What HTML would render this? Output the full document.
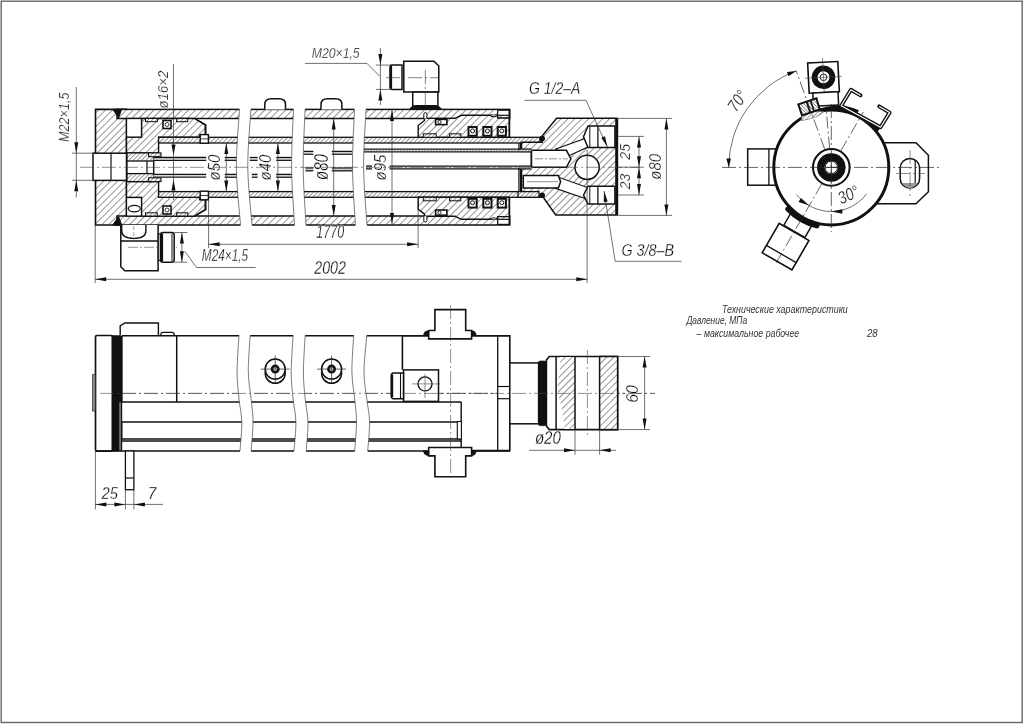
<!DOCTYPE html>
<html><head><meta charset="utf-8"><style>
html,body{margin:0;padding:0;background:#fff;}
svg{display:block;will-change:transform;}
text{font-family:"Liberation Sans",sans-serif;}
</style></head><body>
<svg width="1024" height="724" viewBox="0 0 1024 724">
<defs>
<pattern id="h" patternUnits="userSpaceOnUse" width="4.9" height="4.9" patternTransform="rotate(45)"><rect width="4.9" height="4.9" fill="#fff"/><line x1="0" y1="0" x2="0" y2="4.9" stroke="#222" stroke-width="0.95"/></pattern>
<pattern id="h2" patternUnits="userSpaceOnUse" width="3" height="3" patternTransform="rotate(45)"><rect width="3" height="3" fill="#fff"/><line x1="0" y1="0" x2="0" y2="3" stroke="#222" stroke-width="0.9"/></pattern>
<pattern id="h4" patternUnits="userSpaceOnUse" width="2.4" height="2.4" patternTransform="rotate(-45)"><rect width="2.4" height="2.4" fill="#fff"/><line x1="0" y1="0" x2="0" y2="2.4" stroke="#222" stroke-width="0.9"/></pattern>
<pattern id="h3" patternUnits="userSpaceOnUse" width="2" height="2" patternTransform="rotate(45)"><rect width="2" height="2" fill="#888"/><line x1="0" y1="0" x2="0" y2="2" stroke="#111" stroke-width="1"/></pattern>
</defs>
<rect x="1.2" y="1.2" width="1021" height="721.3" fill="none" stroke="#666" stroke-width="1.4"/>
<polygon points="95.5,109.4 126.5,109.4 126.5,225 95.5,225" fill="url(#h)" stroke="#111" stroke-width="1.6" />
<rect x="93" y="153.2" width="33.5" height="27.2" fill="#fff" stroke="#111" stroke-width="1.5" />
<line x1="111" y1="153.2" x2="111" y2="180.4" stroke="#111" stroke-width="1.2" />
<rect x="117" y="109.4" width="392.7" height="9.099999999999994" fill="url(#h)" stroke="#111" stroke-width="1.5" />
<rect x="117" y="216.0" width="392.7" height="9.0" fill="url(#h)" stroke="#111" stroke-width="1.5" />
<polygon points="112.8,109.4 121.7,109.4 118.6,117.8" fill="#111" stroke="#111" stroke-width="1" />
<polygon points="112.8,225 121.7,225 118.6,216.6" fill="#111" stroke="#111" stroke-width="1" />
<polygon points="126.5,137.1 141.5,137.1 141.5,118.5 194.6,118.5 205.8,125 205.8,135 199.6,135 199.6,137.3 158.6,137.3 158.6,153 126.5,153" fill="url(#h)" stroke="#111" stroke-width="1.4" />
<polygon points="126.5,197.5 141.5,197.5 141.5,216.1 194.6,216.1 205.8,209.6 205.8,199.6 199.6,199.6 199.6,197.3 158.6,197.3 158.6,181.6 126.5,181.6" fill="url(#h)" stroke="#111" stroke-width="1.4" />
<rect x="126.5" y="118.5" width="15" height="18.6" fill="#fff" stroke="#111" stroke-width="1.3" />
<rect x="126.5" y="197.5" width="15" height="18.6" fill="#fff" stroke="#111" stroke-width="1.3" />
<ellipse cx="134.3" cy="208.6" rx="6" ry="3.2" fill="none" stroke="#111" stroke-width="1.2"/>
<rect x="163" y="120.5" width="8" height="8" fill="#fff" stroke="#111" stroke-width="1.6" />
<circle cx="167" cy="124.5" r="2" fill="none" stroke="#111" stroke-width="0.8"/>
<rect x="163" y="206" width="8" height="8" fill="#fff" stroke="#111" stroke-width="1.6" />
<circle cx="167" cy="210" r="2" fill="none" stroke="#111" stroke-width="0.8"/>
<rect x="145.5" y="118.5" width="11.8" height="3.2" fill="url(#h2)" stroke="#111" stroke-width="1.0" />
<rect x="176.6" y="118.5" width="11.2" height="3.2" fill="url(#h2)" stroke="#111" stroke-width="1.0" />
<rect x="145.5" y="212.8" width="11.8" height="3.2" fill="url(#h2)" stroke="#111" stroke-width="1.0" />
<rect x="176.6" y="212.8" width="11.2" height="3.2" fill="url(#h2)" stroke="#111" stroke-width="1.0" />
<rect x="127" y="152.9" width="26.6" height="28.7" fill="url(#h2)" stroke="#111" stroke-width="1.3" />
<rect x="127" y="161" width="26.6" height="12.6" fill="#fff" stroke="#111" stroke-width="1.3" />
<line x1="147" y1="161" x2="147" y2="173.6" stroke="#111" stroke-width="1.2" />
<rect x="148.6" y="152.9" width="12.4" height="3.8" fill="url(#h2)" stroke="#111" stroke-width="1.1" />
<rect x="148.6" y="177.8" width="12.4" height="3.8" fill="url(#h2)" stroke="#111" stroke-width="1.1" />
<rect x="158.6" y="137.3" width="381.4" height="5.7" fill="url(#h2)" stroke="#111" stroke-width="1.3" />
<rect x="158.6" y="191.6" width="380.4" height="5.7" fill="url(#h2)" stroke="#111" stroke-width="1.3" />
<rect x="200.2" y="134.6" width="8.2" height="8.6" fill="#fff" stroke="#111" stroke-width="1.4" />
<line x1="200.2" y1="138.9" x2="208.4" y2="138.9" stroke="#111" stroke-width="0.8" />
<rect x="200.2" y="191.2" width="8.2" height="8.6" fill="#fff" stroke="#111" stroke-width="1.4" />
<line x1="200.2" y1="195.5" x2="208.4" y2="195.5" stroke="#111" stroke-width="0.8" />
<path d="M194.6,118.5 L205.2,125 L205.2,134.6" fill="none" stroke="#111" stroke-width="1.4"/>
<path d="M194.6,216.1 L205.2,209.6 L205.2,199.8" fill="none" stroke="#111" stroke-width="1.4"/>
<rect x="153.6" y="157.4" width="52.599999999999994" height="3.0" fill="#fff" stroke="none" stroke-width="0" /><line x1="153.6" y1="157.5" x2="206.2" y2="157.5" stroke="#111" stroke-width="1.3" /><line x1="153.6" y1="160.3" x2="206.2" y2="160.3" stroke="#111" stroke-width="1.3" /><line x1="153.6" y1="158.9" x2="206.2" y2="158.9" stroke="#999" stroke-width="0.8" stroke-dasharray="2,1"/>
<rect x="153.6" y="174.3" width="52.599999999999994" height="3.0" fill="#fff" stroke="none" stroke-width="0" /><line x1="153.6" y1="174.4" x2="206.2" y2="174.4" stroke="#111" stroke-width="1.3" /><line x1="153.6" y1="177.20000000000002" x2="206.2" y2="177.20000000000002" stroke="#111" stroke-width="1.3" /><line x1="153.6" y1="175.8" x2="206.2" y2="175.8" stroke="#999" stroke-width="0.8" stroke-dasharray="2,1"/>
<rect x="224.7" y="157.4" width="15.300000000000011" height="3.0" fill="#fff" stroke="none" stroke-width="0" /><line x1="224.7" y1="157.5" x2="240" y2="157.5" stroke="#111" stroke-width="1.3" /><line x1="224.7" y1="160.3" x2="240" y2="160.3" stroke="#111" stroke-width="1.3" /><line x1="224.7" y1="158.9" x2="240" y2="158.9" stroke="#999" stroke-width="0.8" stroke-dasharray="2,1"/>
<rect x="224.7" y="174.3" width="15.300000000000011" height="3.0" fill="#fff" stroke="none" stroke-width="0" /><line x1="224.7" y1="174.4" x2="240" y2="174.4" stroke="#111" stroke-width="1.3" /><line x1="224.7" y1="177.20000000000002" x2="240" y2="177.20000000000002" stroke="#111" stroke-width="1.3" /><line x1="224.7" y1="175.8" x2="240" y2="175.8" stroke="#999" stroke-width="0.8" stroke-dasharray="2,1"/>
<rect x="249.8" y="157.4" width="7.800000000000011" height="3.0" fill="#fff" stroke="none" stroke-width="0" /><line x1="249.8" y1="157.5" x2="257.6" y2="157.5" stroke="#111" stroke-width="1.3" /><line x1="249.8" y1="160.3" x2="257.6" y2="160.3" stroke="#111" stroke-width="1.3" /><line x1="249.8" y1="158.9" x2="257.6" y2="158.9" stroke="#999" stroke-width="0.8" stroke-dasharray="2,1"/>
<rect x="251.8" y="174.3" width="5.800000000000011" height="3.0" fill="#fff" stroke="none" stroke-width="0" /><line x1="251.8" y1="174.4" x2="257.6" y2="174.4" stroke="#111" stroke-width="1.3" /><line x1="251.8" y1="177.20000000000002" x2="257.6" y2="177.20000000000002" stroke="#111" stroke-width="1.3" /><line x1="251.8" y1="175.8" x2="257.6" y2="175.8" stroke="#999" stroke-width="0.8" stroke-dasharray="2,1"/>
<rect x="276.2" y="157.4" width="16.600000000000023" height="3.0" fill="#fff" stroke="none" stroke-width="0" /><line x1="276.2" y1="157.5" x2="292.8" y2="157.5" stroke="#111" stroke-width="1.3" /><line x1="276.2" y1="160.3" x2="292.8" y2="160.3" stroke="#111" stroke-width="1.3" /><line x1="276.2" y1="158.9" x2="292.8" y2="158.9" stroke="#999" stroke-width="0.8" stroke-dasharray="2,1"/>
<rect x="276.2" y="174.3" width="18.5" height="3.0" fill="#fff" stroke="none" stroke-width="0" /><line x1="276.2" y1="174.4" x2="294.7" y2="174.4" stroke="#111" stroke-width="1.3" /><line x1="276.2" y1="177.20000000000002" x2="294.7" y2="177.20000000000002" stroke="#111" stroke-width="1.3" /><line x1="276.2" y1="175.8" x2="294.7" y2="175.8" stroke="#999" stroke-width="0.8" stroke-dasharray="2,1"/>
<rect x="303.5" y="151.3" width="9.800000000000011" height="3.0" fill="#fff" stroke="none" stroke-width="0" /><line x1="303.5" y1="151.4" x2="313.3" y2="151.4" stroke="#111" stroke-width="1.3" /><line x1="303.5" y1="154.20000000000002" x2="313.3" y2="154.20000000000002" stroke="#111" stroke-width="1.3" /><line x1="303.5" y1="152.8" x2="313.3" y2="152.8" stroke="#999" stroke-width="0.8" stroke-dasharray="2,1"/>
<rect x="331.8" y="151.3" width="20.5" height="3.0" fill="#fff" stroke="none" stroke-width="0" /><line x1="331.8" y1="151.4" x2="352.3" y2="151.4" stroke="#111" stroke-width="1.3" /><line x1="331.8" y1="154.20000000000002" x2="352.3" y2="154.20000000000002" stroke="#111" stroke-width="1.3" /><line x1="331.8" y1="152.8" x2="352.3" y2="152.8" stroke="#999" stroke-width="0.8" stroke-dasharray="2,1"/>
<rect x="305.5" y="167.9" width="7.800000000000011" height="3.0" fill="#fff" stroke="none" stroke-width="0" /><line x1="305.5" y1="168.0" x2="313.3" y2="168.0" stroke="#111" stroke-width="1.3" /><line x1="305.5" y1="170.8" x2="313.3" y2="170.8" stroke="#111" stroke-width="1.3" /><line x1="305.5" y1="169.4" x2="313.3" y2="169.4" stroke="#999" stroke-width="0.8" stroke-dasharray="2,1"/>
<rect x="331.8" y="167.9" width="22.5" height="3.0" fill="#fff" stroke="none" stroke-width="0" /><line x1="331.8" y1="168.0" x2="354.3" y2="168.0" stroke="#111" stroke-width="1.3" /><line x1="331.8" y1="170.8" x2="354.3" y2="170.8" stroke="#111" stroke-width="1.3" /><line x1="331.8" y1="169.4" x2="354.3" y2="169.4" stroke="#999" stroke-width="0.8" stroke-dasharray="2,1"/>
<rect x="364" y="149.0" width="167.39999999999998" height="3.0" fill="#fff" stroke="none" stroke-width="0" /><line x1="364" y1="149.1" x2="531.4" y2="149.1" stroke="#111" stroke-width="1.3" /><line x1="364" y1="151.9" x2="531.4" y2="151.9" stroke="#111" stroke-width="1.3" /><line x1="364" y1="150.5" x2="531.4" y2="150.5" stroke="#999" stroke-width="0.8" stroke-dasharray="2,1"/>
<rect x="366" y="166.0" width="6" height="3.0" fill="#fff" stroke="none" stroke-width="0" /><line x1="366" y1="166.1" x2="372" y2="166.1" stroke="#111" stroke-width="1.3" /><line x1="366" y1="168.9" x2="372" y2="168.9" stroke="#111" stroke-width="1.3" /><line x1="366" y1="167.5" x2="372" y2="167.5" stroke="#999" stroke-width="0.8" stroke-dasharray="2,1"/>
<rect x="389.5" y="166.0" width="141.89999999999998" height="3.0" fill="#fff" stroke="none" stroke-width="0" /><line x1="389.5" y1="166.1" x2="531.4" y2="166.1" stroke="#111" stroke-width="1.3" /><line x1="389.5" y1="168.9" x2="531.4" y2="168.9" stroke="#111" stroke-width="1.3" /><line x1="389.5" y1="167.5" x2="531.4" y2="167.5" stroke="#999" stroke-width="0.8" stroke-dasharray="2,1"/>
<line x1="531.4" y1="148.7" x2="531.4" y2="167.4" stroke="#111" stroke-width="1.4" />
<line x1="520.5" y1="143" x2="520.5" y2="150" stroke="#111" stroke-width="1.3" />
<line x1="520.5" y1="167.5" x2="520.5" y2="191.6" stroke="#111" stroke-width="1.3" />
<path d="M239.5,107.9 C239.50,108.15 240.02,99.50 239.50,109.40 C238.98,119.30 236.23,148.03 236.40,167.30 C236.57,186.57 239.82,215.13 240.50,225.00 C241.18,234.87 240.50,226.25 240.50,226.50 L252,226.5 C252.00,226.25 252.70,234.87 252.00,225.00 C251.30,215.13 247.98,186.57 247.80,167.30 C247.62,148.03 250.38,119.30 250.90,109.40 C251.42,99.50 250.90,108.15 250.90,107.90 Z" fill="#fff" stroke="none"/><path d="M239.5,109.4 C238.98,119.05 236.23,148.03 236.40,167.30 C236.57,186.57 239.82,215.38 240.50,225.00" fill="none" stroke="#444" stroke-width="0.7"/><path d="M250.9,109.4 C250.38,119.05 247.62,148.03 247.80,167.30 C247.98,186.57 251.30,215.38 252.00,225.00" fill="none" stroke="#444" stroke-width="0.7"/>
<path d="M293.5,107.9 C293.50,108.15 293.82,99.50 293.50,109.40 C293.18,119.30 291.43,148.03 291.60,167.30 C291.77,186.57 294.02,215.13 294.50,225.00 C294.98,234.87 294.50,226.25 294.50,226.50 L306,226.5 C306.00,226.25 306.47,234.87 306.00,225.00 C305.53,215.13 303.35,186.57 303.20,167.30 C303.05,148.03 304.78,119.30 305.10,109.40 C305.42,99.50 305.10,108.15 305.10,107.90 Z" fill="#fff" stroke="none"/><path d="M293.5,109.4 C293.18,119.05 291.43,148.03 291.60,167.30 C291.77,186.57 294.02,215.38 294.50,225.00" fill="none" stroke="#444" stroke-width="0.7"/><path d="M305.1,109.4 C304.78,119.05 303.05,148.03 303.20,167.30 C303.35,186.57 305.53,215.38 306.00,225.00" fill="none" stroke="#444" stroke-width="0.7"/>
<path d="M354.5,107.9 C354.50,108.15 354.83,99.50 354.50,109.40 C354.17,119.30 352.35,148.03 352.50,167.30 C352.65,186.57 354.92,215.13 355.40,225.00 C355.88,234.87 355.40,226.25 355.40,226.50 L367,226.5 C367.00,226.25 367.57,234.87 367.00,225.00 C366.43,215.13 363.77,186.57 363.60,167.30 C363.43,148.03 365.60,119.30 366.00,109.40 C366.40,99.50 366.00,108.15 366.00,107.90 Z" fill="#fff" stroke="none"/><path d="M354.5,109.4 C354.17,119.05 352.35,148.03 352.50,167.30 C352.65,186.57 354.92,215.38 355.40,225.00" fill="none" stroke="#444" stroke-width="0.7"/><path d="M366,109.4 C365.60,119.05 363.43,148.03 363.60,167.30 C363.77,186.57 366.43,215.38 367.00,225.00" fill="none" stroke="#444" stroke-width="0.7"/>
<polygon points="418.2,137.3 418.2,125.5 424.5,120.5 424.5,118.4 455,118.4 461.3,115.3 497.7,115.3 497.7,118 509.3,118 509.3,137.3" fill="url(#h)" stroke="#111" stroke-width="1.4" />
<rect x="497.7" y="110.2" width="11.6" height="5.099999999999994" fill="#fff" stroke="#111" stroke-width="1.2" />
<path d="M490,115.3 Q493.8,118.3 497.7,115.3" fill="#fff" stroke="#111" stroke-width="1.1"/>
<path d="M423.8,118.4 L423.8,114 Q425.3,110.6 426.9,114 L426.9,118.4" fill="#fff" stroke="#111" stroke-width="1.0"/>
<rect x="435.6" y="119.4" width="11.3" height="5.2" fill="#fff" stroke="#111" stroke-width="1.6" />
<circle cx="439.5" cy="122.0" r="1.6" fill="none" stroke="#111" stroke-width="0.9"/>
<rect x="423.3" y="133.8" width="12.899999999999977" height="3.5" fill="url(#h2)" stroke="#111" stroke-width="1.0" />
<rect x="449.5" y="133.8" width="11.300000000000011" height="3.5" fill="url(#h2)" stroke="#111" stroke-width="1.0" />
<rect x="468.5" y="127" width="8.2" height="8.8" fill="#fff" stroke="#111" stroke-width="2.0" />
<circle cx="472.6" cy="130.9" r="2" fill="none" stroke="#111" stroke-width="1"/>
<rect x="483.3" y="127" width="8.2" height="8.8" fill="#fff" stroke="#111" stroke-width="2.0" />
<circle cx="487.40000000000003" cy="130.9" r="2" fill="none" stroke="#111" stroke-width="1"/>
<rect x="497.7" y="127" width="8.2" height="8.8" fill="#fff" stroke="#111" stroke-width="2.0" />
<circle cx="501.8" cy="130.9" r="2" fill="none" stroke="#111" stroke-width="1"/>
<polygon points="418.2,197.3 418.2,209.1 424.5,214.1 424.5,216.2 455,216.2 461.3,219.3 497.7,219.3 497.7,216.6 509.3,216.6 509.3,197.3" fill="url(#h)" stroke="#111" stroke-width="1.4" />
<rect x="497.7" y="219.3" width="11.6" height="5.099999999999994" fill="#fff" stroke="#111" stroke-width="1.2" />
<path d="M490,219.3 Q493.8,216.3 497.7,219.3" fill="#fff" stroke="#111" stroke-width="1.1"/>
<path d="M423.8,216.2 L423.8,220.6 Q425.3,224.0 426.9,220.6 L426.9,216.2" fill="#fff" stroke="#111" stroke-width="1.0"/>
<rect x="435.6" y="210.0" width="11.3" height="5.2" fill="#fff" stroke="#111" stroke-width="1.6" />
<circle cx="439.5" cy="212.6" r="1.6" fill="none" stroke="#111" stroke-width="0.9"/>
<rect x="423.3" y="197.3" width="12.899999999999977" height="3.5" fill="url(#h2)" stroke="#111" stroke-width="1.0" />
<rect x="449.5" y="197.3" width="11.300000000000011" height="3.5" fill="url(#h2)" stroke="#111" stroke-width="1.0" />
<rect x="468.5" y="198.8" width="8.2" height="8.8" fill="#fff" stroke="#111" stroke-width="2.0" />
<circle cx="472.6" cy="202.7" r="2" fill="none" stroke="#111" stroke-width="1"/>
<rect x="483.3" y="198.8" width="8.2" height="8.8" fill="#fff" stroke="#111" stroke-width="2.0" />
<circle cx="487.40000000000003" cy="202.7" r="2" fill="none" stroke="#111" stroke-width="1"/>
<rect x="497.7" y="198.8" width="8.2" height="8.8" fill="#fff" stroke="#111" stroke-width="2.0" />
<circle cx="501.8" cy="202.7" r="2" fill="none" stroke="#111" stroke-width="1"/>
<line x1="509.5" y1="109.4" x2="509.5" y2="137.3" stroke="#111" stroke-width="1.5" />
<line x1="509.5" y1="197.3" x2="509.5" y2="225" stroke="#111" stroke-width="1.5" />
<path d="M264.8,109.4 L264.8,104.5 Q264.8,98.8 271.3,98.8 L279.0,98.8 Q285.5,98.8 285.5,104.5 L285.5,109.4" fill="#fff" stroke="#111" stroke-width="1.5"/>
<path d="M321,109.4 L321,104.5 Q321,98.8 327.5,98.8 L335.4,98.8 Q341.9,98.8 341.9,104.5 L341.9,109.4" fill="#fff" stroke="#111" stroke-width="1.5"/>
<polygon points="542.2,135.9 556.6,118.2 616.7,118.2 616.7,214.9 555.7,214.9 543.1,197 521.5,197 521.5,142.2 542.2,142.2" fill="url(#h)" stroke="#111" stroke-width="1.5" />
<line x1="616.7" y1="118.2" x2="616.7" y2="214.9" stroke="#111" stroke-width="3" />
<circle cx="587.1" cy="167.3" r="12.1" fill="#fff" stroke="#111" stroke-width="1.5"/>
<polygon points="555.7,149.1 585,138.4 587.9,147.1 568.4,155.9" fill="#fff" stroke="#111" stroke-width="1.1" />
<polygon points="558.6,177.3 588.9,188.1 585.9,198.8 554.7,188.1" fill="#fff" stroke="#111" stroke-width="1.1" />
<rect x="519" y="150.5" width="13" height="16.6" fill="#fff" stroke="none" stroke-width="0" />
<polygon points="531.4,150.3 566.4,150.3 570.9,158.8 566.4,167.3 531.4,167.3" fill="#fff" stroke="#111" stroke-width="1.5" />
<rect x="519" y="149.0" width="12.399999999999977" height="3.0" fill="#fff" stroke="none" stroke-width="0" /><line x1="519" y1="149.1" x2="531.4" y2="149.1" stroke="#111" stroke-width="1.3" /><line x1="519" y1="151.9" x2="531.4" y2="151.9" stroke="#111" stroke-width="1.3" /><line x1="519" y1="150.5" x2="531.4" y2="150.5" stroke="#999" stroke-width="0.8" stroke-dasharray="2,1"/>
<rect x="519" y="166.0" width="12.399999999999977" height="3.0" fill="#fff" stroke="none" stroke-width="0" /><line x1="519" y1="166.1" x2="531.4" y2="166.1" stroke="#111" stroke-width="1.3" /><line x1="519" y1="168.9" x2="531.4" y2="168.9" stroke="#111" stroke-width="1.3" /><line x1="519" y1="167.5" x2="531.4" y2="167.5" stroke="#999" stroke-width="0.8" stroke-dasharray="2,1"/>
<line x1="531.4" y1="150.3" x2="531.4" y2="167.3" stroke="#111" stroke-width="1.4" />
<rect x="518" y="191.6" width="21" height="5.7" fill="url(#h2)" stroke="#111" stroke-width="1.3" />
<polygon points="523.3,175.4 558.4,175.4 560.6,181.7 558.4,188 523.3,188" fill="#fff" stroke="#111" stroke-width="1.5" />
<line x1="535" y1="158.8" x2="568" y2="158.8" stroke="#444" stroke-width="0.6" stroke-dasharray="8,2,2,2"/>
<line x1="527" y1="181.7" x2="558" y2="181.7" stroke="#444" stroke-width="0.6" />
<polygon points="588,126 614.9,126 614.9,147.6 588,147.6 583.5,136.8" fill="#fff" stroke="#111" stroke-width="1.5" />
<line x1="589.8" y1="126" x2="589.8" y2="147.6" stroke="#111" stroke-width="1.0" />
<line x1="597.9" y1="126" x2="597.9" y2="147.6" stroke="#111" stroke-width="1.3" />
<polygon points="588,186.2 614.9,186.2 614.9,204.1 588,204.1 583.5,195.2" fill="#fff" stroke="#111" stroke-width="1.5" />
<line x1="589.8" y1="186.2" x2="589.8" y2="204.1" stroke="#111" stroke-width="1.0" />
<line x1="597.9" y1="186.2" x2="597.9" y2="204.1" stroke="#111" stroke-width="1.3" />
<circle cx="542.2" cy="138.6" r="2.8" fill="#111"/>
<circle cx="542.2" cy="195.3" r="2.8" fill="#111"/>
<line x1="518.9" y1="143" x2="518.9" y2="150" stroke="#111" stroke-width="1.2" />
<line x1="518.9" y1="167.5" x2="518.9" y2="191.6" stroke="#111" stroke-width="1.2" />
<path d="M403.8,61.2 L434,61.2 L438.8,66 L438.8,92.1 L403.8,92.1 Z" fill="#fff" stroke="#111" stroke-width="1.5"/>
<path d="M402,65.1 L392,65.1 Q390,65.1 390,68 L390,86.5 Q390,89.4 392,89.4 L402,89.4 Z" fill="#fff" stroke="#111" stroke-width="1.5"/>
<line x1="391" y1="66" x2="391" y2="88.5" stroke="#111" stroke-width="2.2" />
<rect x="412.7" y="92.1" width="25.2" height="14" fill="#fff" stroke="#111" stroke-width="1.5" />
<path d="M409,109.6 Q411,105.3 417,105 L434,105 Q440,105.3 442,109.6 Z" fill="#111"/>
<line x1="425.3" y1="70" x2="425.3" y2="108" stroke="#333" stroke-width="0.6" stroke-dasharray="14,3,2,3"/>
<line x1="386" y1="77.7" x2="438" y2="77.7" stroke="#333" stroke-width="0.6" stroke-dasharray="14,3,2,3"/>
<path d="M120.8,225 L120.8,266.7 L124.8,270.7 L158.1,270.7 L158.1,225" fill="#fff" stroke="#111" stroke-width="1.5"/>
<path d="M121.7,225 L121.7,231 Q122,238.4 133.8,238.4 Q145.9,238.4 145.9,231 L145.9,225" fill="none" stroke="#111" stroke-width="1.4"/>
<line x1="120.8" y1="241" x2="158.1" y2="241" stroke="#111" stroke-width="1.5" />
<line x1="133.8" y1="226" x2="133.8" y2="244" stroke="#666" stroke-width="0.6" stroke-dasharray="4,2"/>
<line x1="128" y1="247.3" x2="177" y2="247.3" stroke="#555" stroke-width="0.6" stroke-dasharray="10,2,2,2"/>
<rect x="158.3" y="233.9" width="2.2" height="26.5" fill="#fff" stroke="#111" stroke-width="1.1" />
<path d="M160.5,234.5 Q160.5,232.5 163,232.5 L172,232.5 Q174.2,232.5 174.2,235 L174.2,259.7 Q174.2,262.2 172,262.2 L163,262.2 Q160.5,262.2 160.5,260 Z" fill="#fff" stroke="#111" stroke-width="1.5"/>
<line x1="162" y1="233.5" x2="162" y2="261.2" stroke="#111" stroke-width="2.2" />
<line x1="172" y1="233.5" x2="172" y2="261.2" stroke="#111" stroke-width="1.0" />
<line x1="80" y1="167.3" x2="640" y2="167.3" stroke="#444" stroke-width="0.6" stroke-dasharray="14,3,2,3"/>
<line x1="76.3" y1="87" x2="76.3" y2="197.4" stroke="#333" stroke-width="0.7" />
<polygon points="76.3,153.2 74.30,142.20 78.30,142.20" fill="#111"/>
<polygon points="76.3,180.3 78.30,191.30 74.30,191.30" fill="#111"/>
<line x1="72" y1="153.2" x2="95" y2="153.2" stroke="#333" stroke-width="0.7" />
<line x1="72" y1="180.3" x2="95" y2="180.3" stroke="#333" stroke-width="0.7" />
<text transform="translate(68.6,142.0) rotate(-90) scale(0.867,1)" font-size="14.59" fill="#000" stroke="#fff" stroke-width="0.3" font-style="italic">M22×1,5</text>
<line x1="173.5" y1="64" x2="173.5" y2="200" stroke="#333" stroke-width="0.7" />
<polygon points="173.5,155.5 171.50,144.50 175.50,144.50" fill="#111"/>
<polygon points="173.5,179.6 175.50,190.60 171.50,190.60" fill="#111"/>
<text transform="translate(167.7,108.4) rotate(-90) scale(0.866,1)" font-size="15.26" fill="#000" stroke="#fff" stroke-width="0.3" font-style="italic">ø16×2</text>
<line x1="226.3" y1="143" x2="226.3" y2="191.6" stroke="#333" stroke-width="0.7" />
<polygon points="226.3,143 228.30,154.00 224.30,154.00" fill="#111"/>
<polygon points="226.3,191.6 224.30,180.60 228.30,180.60" fill="#111"/>
<text transform="translate(220.15,180.5) rotate(-90) scale(0.868,1)" font-size="17.27" fill="#000" stroke="#fff" stroke-width="0.3" font-style="italic">ø50</text>
<line x1="277.9" y1="143" x2="277.9" y2="191.6" stroke="#333" stroke-width="0.7" />
<polygon points="277.9,143 279.90,154.00 275.90,154.00" fill="#111"/>
<polygon points="277.9,191.6 275.90,180.60 279.90,180.60" fill="#111"/>
<text transform="translate(270.95,180.5) rotate(-90) scale(0.868,1)" font-size="17.27" fill="#000" stroke="#fff" stroke-width="0.3" font-style="italic">ø40</text>
<line x1="333.7" y1="118.5" x2="333.7" y2="216" stroke="#333" stroke-width="0.7" />
<polygon points="333.7,118.5 335.70,129.50 331.70,129.50" fill="#111"/>
<polygon points="333.7,216 331.70,205.00 335.70,205.00" fill="#111"/>
<text transform="translate(328.1,180.0) rotate(-90) scale(0.77,1)" font-size="19.46" fill="#000" stroke="#fff" stroke-width="0.3" font-style="italic">ø80</text>
<line x1="392" y1="110" x2="392" y2="224" stroke="#333" stroke-width="0.7" />
<polygon points="392,110 394.00,121.00 390.00,121.00" fill="#111"/>
<polygon points="392,224 390.00,213.00 394.00,213.00" fill="#111"/>
<text transform="translate(386.15,180.5) rotate(-90) scale(0.868,1)" font-size="17.27" fill="#000" stroke="#fff" stroke-width="0.3" font-style="italic">ø95</text>
<line x1="380.4" y1="48" x2="380.4" y2="105" stroke="#333" stroke-width="0.7" />
<polygon points="380.4,65.1 378.40,54.10 382.40,54.10" fill="#111"/>
<polygon points="380.4,89.4 382.40,100.40 378.40,100.40" fill="#111"/>
<line x1="376" y1="65.1" x2="392" y2="65.1" stroke="#333" stroke-width="0.7" />
<line x1="376" y1="89.4" x2="392" y2="89.4" stroke="#333" stroke-width="0.7" />
<polyline points="305,63.4 367,63.4 379.5,76" fill="none" stroke="#333" stroke-width="0.7"/>
<text transform="translate(311.75,57.5) rotate(0) scale(0.838,1)" font-size="14.59" fill="#000" stroke="#fff" stroke-width="0.3" font-style="italic">M20×1,5</text>
<line x1="208.6" y1="199" x2="208.6" y2="248" stroke="#333" stroke-width="0.7" />
<line x1="418.1" y1="200" x2="418.1" y2="248" stroke="#333" stroke-width="0.7" />
<line x1="208.6" y1="244.3" x2="418.1" y2="244.3" stroke="#333" stroke-width="0.7" />
<polygon points="208.6,244.3 219.60,242.30 219.60,246.30" fill="#111"/>
<polygon points="418.1,244.3 407.10,246.30 407.10,242.30" fill="#111"/>
<text transform="translate(316.3,238.1) rotate(0) scale(0.693,1)" font-size="18.12" fill="#000" stroke="#fff" stroke-width="0.3" font-style="italic">1770</text>
<line x1="95.2" y1="225" x2="95.2" y2="283" stroke="#333" stroke-width="0.7" />
<line x1="587.1" y1="150" x2="587.1" y2="283" stroke="#333" stroke-width="0.7" />
<line x1="95.2" y1="279.3" x2="587.3" y2="279.3" stroke="#333" stroke-width="0.7" />
<polygon points="95.2,279.3 106.20,277.30 106.20,281.30" fill="#111"/>
<polygon points="587.3,279.3 576.30,281.30 576.30,277.30" fill="#111"/>
<text transform="translate(314.3,273.7) rotate(0) scale(0.783,1)" font-size="18.12" fill="#000" stroke="#fff" stroke-width="0.3" font-style="italic">2002</text>
<line x1="174.5" y1="232.5" x2="187.3" y2="232.5" stroke="#333" stroke-width="0.7" />
<line x1="174.5" y1="262.2" x2="187.3" y2="262.2" stroke="#333" stroke-width="0.7" />
<line x1="181.9" y1="232.5" x2="181.9" y2="262.2" stroke="#333" stroke-width="0.7" />
<polygon points="181.9,232.5 183.90,243.50 179.90,243.50" fill="#111"/>
<polygon points="181.9,262.2 179.90,251.20 183.90,251.20" fill="#111"/>
<polyline points="184.6,251 196.5,267.5 255.6,267.5" fill="none" stroke="#333" stroke-width="0.7"/>
<text transform="translate(201.8,260.6) rotate(0) scale(0.728,1)" font-size="16.22" fill="#000" stroke="#fff" stroke-width="0.3" font-style="italic">M24×1,5</text>
<polyline points="524.4,100.3 586,100.3 607.4,147.1" fill="none" stroke="#333" stroke-width="0.7"/>
<polygon points="607.4,147.1 601.30,137.73 604.98,136.18" fill="#111"/>
<text transform="translate(529.0,94.05) rotate(0) scale(0.811,1)" font-size="17.27" fill="#000" stroke="#fff" stroke-width="0.3" font-style="italic">G 1/2–A</text>
<polyline points="681.6,261.3 615.2,261.3 604,191" fill="none" stroke="#333" stroke-width="0.7"/>
<polygon points="604,191 607.71,201.55 603.76,202.18" fill="#111"/>
<text transform="translate(621.4,256.07) rotate(0) scale(0.843,1)" font-size="17.0" fill="#000" stroke="#fff" stroke-width="0.3" font-style="italic">G 3/8–B</text>
<line x1="617" y1="118.4" x2="672" y2="118.4" stroke="#333" stroke-width="0.7" />
<line x1="617" y1="215.4" x2="672" y2="215.4" stroke="#333" stroke-width="0.7" />
<line x1="666.4" y1="118.4" x2="666.4" y2="215.4" stroke="#333" stroke-width="0.7" />
<polygon points="666.4,118.4 668.40,129.40 664.40,129.40" fill="#111"/>
<polygon points="666.4,215.4 664.40,204.40 668.40,204.40" fill="#111"/>
<text transform="translate(661.2,179.7) rotate(-90) scale(0.959,1)" font-size="15.62" fill="#000" stroke="#fff" stroke-width="0.3" font-style="italic">ø80</text>
<line x1="617" y1="136.4" x2="644" y2="136.4" stroke="#333" stroke-width="0.7" />
<line x1="617" y1="167.2" x2="644" y2="167.2" stroke="#333" stroke-width="0.7" />
<line x1="617" y1="195" x2="644" y2="195" stroke="#333" stroke-width="0.7" />
<line x1="639" y1="136.4" x2="639" y2="195" stroke="#333" stroke-width="0.7" />
<polygon points="639,136.4 641.00,147.40 637.00,147.40" fill="#111"/>
<polygon points="639,167.2 637.00,156.20 641.00,156.20" fill="#111"/>
<polygon points="639,167.2 641.00,178.20 637.00,178.20" fill="#111"/>
<polygon points="639,195 637.00,184.00 641.00,184.00" fill="#111"/>
<text transform="translate(630.4,159.65) rotate(-90) scale(0.975,1)" font-size="14.57" fill="#000" stroke="#fff" stroke-width="0.3" font-style="italic">25</text>
<text transform="translate(630.4,189.25) rotate(-90) scale(0.963,1)" font-size="14.57" fill="#000" stroke="#fff" stroke-width="0.3" font-style="italic">23</text>
<rect x="747.7" y="148.9" width="28" height="36.3" fill="#fff" stroke="#111" stroke-width="1.5" />
<line x1="768.9" y1="148.9" x2="768.9" y2="185.2" stroke="#111" stroke-width="1.3" />
<polygon points="870,142.7 916,142.7 928.4,155.2 928.4,191.8 916,203.8 870,203.8" fill="#fff" stroke="#111" stroke-width="1.5" />
<circle cx="831.3" cy="167.4" r="57.5" fill="#fff" stroke="#111" stroke-width="3"/>
<rect x="900.2" y="158.4" width="19.4" height="29.7" fill="#fff" stroke="#111" stroke-width="1.5" rx="9.7" ry="9.7"/>
<line x1="915.2" y1="160" x2="915.2" y2="186" stroke="#111" stroke-width="1.2" />
<path d="M902,183 L918,183 Q914,188 910,188 Q905,188 902,183 Z" fill="#999"/>
<line x1="910.1" y1="150" x2="910.1" y2="196" stroke="#444" stroke-width="0.6" stroke-dasharray="14,3,2,3"/>
<line x1="896" y1="173.5" x2="925" y2="173.5" stroke="#444" stroke-width="0.6" stroke-dasharray="14,3,2,3"/>
<circle cx="831.3" cy="167.4" r="18.3" fill="#fff" stroke="#111" stroke-width="2"/>
<circle cx="831.3" cy="167.4" r="10.5" fill="none" stroke="#111" stroke-width="7.5"/>
<circle cx="831.3" cy="167.4" r="6.2" fill="#fff" stroke="#111" stroke-width="1"/>
<line x1="825.3" y1="167.4" x2="837.3" y2="167.4" stroke="#111" stroke-width="0.8" />
<line x1="831.3" y1="161.4" x2="831.3" y2="173.4" stroke="#111" stroke-width="0.8" />
<g transform="rotate(-3 823.5 77.3)">
<rect x="808.4" y="62.3" width="30.2" height="30.2" fill="#fff" stroke="#111" stroke-width="1.6" />
<circle cx="823.5" cy="77.3" r="8.9" fill="none" stroke="#111" stroke-width="5.8"/>
<circle cx="823.5" cy="77.3" r="3.3" fill="none" stroke="#111" stroke-width="0.9"/>
<line x1="805" y1="77.3" x2="842" y2="77.3" stroke="#444" stroke-width="0.6" />
<line x1="823.5" y1="58" x2="823.5" y2="96" stroke="#444" stroke-width="0.6" />
<rect x="812" y="92.5" width="25.2" height="13.2" fill="#fff" stroke="#111" stroke-width="1.5" />
</g>
<path d="M818,111 Q840,104 858,112" fill="none" stroke="#111" stroke-width="4"/>
<path d="M802.1,115.5 Q812,110 823.9,111.7 Q818,118 801.4,120.6 Z" fill="url(#h2)" stroke="#555" stroke-width="0.6"/>
<polygon points="798.3,104.4 816.4,98.3 819.7,109.4 802.1,115.5" fill="url(#h4)" stroke="#111" stroke-width="2.0" />
<line x1="806.5" y1="101.6" x2="810" y2="112.6" stroke="#111" stroke-width="1.6" />
<line x1="810.5" y1="100.3" x2="814" y2="111.3" stroke="#111" stroke-width="1.6" />
<path d="M838,104.8 L880.5,127.8 L877,132.5 A57.5,57.5 0 0 0 836,110.1 Z" fill="#111"/>
<polyline points="860.6,95.4 850.9,89.8 841.2,105.7 880.5,127.2 889.6,112.6 879.2,106.4" fill="none" stroke="#111" stroke-width="3.9" stroke-linejoin="round" stroke-linecap="round"/>
<polyline points="860.6,95.4 850.9,89.8 841.2,105.7 880.5,127.2 889.6,112.6 879.2,106.4" fill="none" stroke="#fff" stroke-width="1.2" stroke-linejoin="round"/>
<g transform="rotate(30 831.3 167.4)">
<rect x="819.0999999999999" y="225.4" width="24.4" height="16" fill="#fff" stroke="#111" stroke-width="1.5" />
<rect x="814.0999999999999" y="241.9" width="34.4" height="34" fill="#fff" stroke="#111" stroke-width="1.6" />
<line x1="814.0999999999999" y1="267.4" x2="848.5" y2="267.4" stroke="#111" stroke-width="1.3" />
</g>
<path d="M816.78,225.62 A60,60 0 0 1 788.14,209.08" fill="none" stroke="#111" stroke-width="5.5" stroke-linecap="round"/>
<path d="M728.7,167.4 A102.6,102.6 0 0 1 796.21,70.99" fill="none" stroke="#333" stroke-width="0.7"/>
<polygon points="728.7,167.4 726.40,158.40 731.00,158.40" fill="#111"/>
<polygon points="796.21,70.99 788.53,76.21 786.96,71.89" fill="#111"/>
<text transform="translate(736.3,112.95) rotate(-55) scale(0.8,1)" font-size="17.58" fill="#000" stroke="#fff" stroke-width="0.3" font-style="italic">70°</text>
<path d="M796.55,194.55 A44.1,44.1 0 0 0 866.66,193.76" fill="none" stroke="#333" stroke-width="0.7"/>
<polygon points="809.25,205.59 798.57,202.08 800.87,198.10" fill="#111"/>
<polygon points="831.3,211.5 842.30,209.20 842.30,213.80" fill="#111"/>
<text transform="translate(841.35,204.5) rotate(-25) scale(0.8,1)" font-size="17.44" fill="#000" stroke="#fff" stroke-width="0.3" font-style="italic">30°</text>
<line x1="722" y1="167.4" x2="940" y2="167.4" stroke="#222" stroke-width="0.7" stroke-dasharray="14,3,2,3"/>
<line x1="831.3" y1="104" x2="831.3" y2="232" stroke="#222" stroke-width="0.7" stroke-dasharray="14,3,2,3"/>
<line x1="824.8" y1="149.55" x2="796.07" y2="70.61" stroke="#222" stroke-width="0.7" stroke-dasharray="12,3,2,3"/>
<line x1="840.8" y1="150.95" x2="863.3" y2="111.97" stroke="#222" stroke-width="0.7" stroke-dasharray="12,3,2,3"/>
<line x1="829.64" y1="148.47" x2="826.24" y2="109.62" stroke="#222" stroke-width="0.7" stroke-dasharray="12,3,2,3"/>
<line x1="821.8" y1="183.85" x2="776.3" y2="262.66" stroke="#222" stroke-width="0.7" stroke-dasharray="12,3,2,3"/>
<line x1="100" y1="393.4" x2="655" y2="393.4" stroke="#444" stroke-width="0.6" stroke-dasharray="14,3,2,3"/>
<rect x="95.5" y="335.5" width="17" height="115.6" fill="#fff" stroke="#111" stroke-width="1.7" rx="1.5"/>
<rect x="92.5" y="374.7" width="3" height="36.3" fill="#888" stroke="#111" stroke-width="0.6" />
<rect x="112" y="335.5" width="10.3" height="66.5" fill="#111" stroke="#111" stroke-width="0.5" />
<rect x="112" y="402" width="7.3" height="49.1" fill="#111" stroke="#111" stroke-width="0.5" />
<line x1="121.3" y1="402" x2="121.3" y2="451" stroke="#111" stroke-width="1.8" />
<path d="M120.2,335.5 L120.2,326 L124.8,323 L158.4,323 L158.4,335.5" fill="#fff" stroke="#111" stroke-width="1.4"/>
<path d="M160.9,335.5 L160.9,334 Q161,332.4 163,332.4 L172,332.4 Q174.3,332.4 174.3,335.5" fill="#fff" stroke="#111" stroke-width="1.3"/>
<line x1="176.7" y1="335.5" x2="176.7" y2="402.2" stroke="#111" stroke-width="1.5" />
<line x1="122" y1="335.8" x2="402.1" y2="335.8" stroke="#111" stroke-width="1.6" />
<line x1="122" y1="402.0" x2="461.2" y2="402.0" stroke="#111" stroke-width="1.5" />
<line x1="122" y1="422.0" x2="461.2" y2="422.0" stroke="#111" stroke-width="1.4" />
<line x1="122" y1="438.9" x2="461.2" y2="438.9" stroke="#111" stroke-width="1.5" />
<line x1="122" y1="440.9" x2="461.2" y2="440.9" stroke="#111" stroke-width="1.5" />
<line x1="95.5" y1="451" x2="509.8" y2="451" stroke="#111" stroke-width="1.7" />
<line x1="121.8" y1="421.9" x2="121.8" y2="439.3" stroke="#111" stroke-width="1.2" />
<path d="M239,333.8 C239.00,334.05 239.32,328.93 239.00,335.30 C238.68,341.67 237.10,361.38 237.10,372.00 C237.10,382.62 238.22,390.67 239.00,399.00 C239.78,407.33 241.63,413.33 241.80,422.00 C241.97,430.67 240.30,445.92 240.00,451.00 C239.70,456.08 240.00,452.25 240.00,452.50 L251.1,452.5 C251.10,452.25 250.78,456.08 251.10,451.00 C251.42,445.92 253.00,430.67 253.00,422.00 C253.00,413.33 251.88,407.33 251.10,399.00 C250.32,390.67 248.45,382.62 248.30,372.00 C248.15,361.38 249.88,341.67 250.20,335.30 C250.52,328.93 250.20,334.05 250.20,333.80 Z" fill="#fff" stroke="none"/><path d="M239,335.3 C238.68,341.42 237.10,361.38 237.10,372.00 C237.10,382.62 238.22,390.67 239.00,399.00 C239.78,407.33 241.63,413.33 241.80,422.00 C241.97,430.67 240.30,446.17 240.00,451.00" fill="none" stroke="#444" stroke-width="0.7"/><path d="M250.2,335.3 C249.88,341.42 248.15,361.38 248.30,372.00 C248.45,382.62 250.32,390.67 251.10,399.00 C251.88,407.33 253.00,413.33 253.00,422.00 C253.00,430.67 251.42,446.17 251.10,451.00" fill="none" stroke="#444" stroke-width="0.7"/>
<path d="M293.1,333.8 C293.10,334.05 293.42,328.93 293.10,335.30 C292.78,341.67 291.20,361.38 291.20,372.00 C291.20,382.62 292.32,390.67 293.10,399.00 C293.88,407.33 295.75,413.33 295.90,422.00 C296.05,430.67 294.32,445.92 294.00,451.00 C293.68,456.08 294.00,452.25 294.00,452.50 L306.2,452.5 C306.20,452.25 305.90,456.08 306.20,451.00 C306.50,445.92 308.17,430.67 308.00,422.00 C307.83,413.33 305.97,407.33 305.20,399.00 C304.43,390.67 303.40,382.62 303.40,372.00 C303.40,361.38 304.90,341.67 305.20,335.30 C305.50,328.93 305.20,334.05 305.20,333.80 Z" fill="#fff" stroke="none"/><path d="M293.1,335.3 C292.78,341.42 291.20,361.38 291.20,372.00 C291.20,382.62 292.32,390.67 293.10,399.00 C293.88,407.33 295.75,413.33 295.90,422.00 C296.05,430.67 294.32,446.17 294.00,451.00" fill="none" stroke="#444" stroke-width="0.7"/><path d="M305.2,335.3 C304.90,341.42 303.40,361.38 303.40,372.00 C303.40,382.62 304.43,390.67 305.20,399.00 C305.97,407.33 307.83,413.33 308.00,422.00 C308.17,430.67 306.50,446.17 306.20,451.00" fill="none" stroke="#444" stroke-width="0.7"/>
<path d="M353.7,333.8 C353.70,334.05 354.00,328.93 353.70,335.30 C353.40,341.67 351.73,361.38 351.90,372.00 C352.07,382.62 353.93,390.67 354.70,399.00 C355.47,407.33 356.50,413.33 356.50,422.00 C356.50,430.67 355.00,445.92 354.70,451.00 C354.40,456.08 354.70,452.25 354.70,452.50 L367.7,452.5 C367.70,452.25 367.38,456.08 367.70,451.00 C368.02,445.92 369.75,430.67 369.60,422.00 C369.45,413.33 367.73,407.33 366.80,399.00 C365.87,390.67 364.00,382.62 364.00,372.00 C364.00,361.38 366.33,341.67 366.80,335.30 C367.27,328.93 366.80,334.05 366.80,333.80 Z" fill="#fff" stroke="none"/><path d="M353.7,335.3 C353.40,341.42 351.73,361.38 351.90,372.00 C352.07,382.62 353.93,390.67 354.70,399.00 C355.47,407.33 356.50,413.33 356.50,422.00 C356.50,430.67 355.00,446.17 354.70,451.00" fill="none" stroke="#444" stroke-width="0.7"/><path d="M366.8,335.3 C366.33,341.42 364.00,361.38 364.00,372.00 C364.00,382.62 365.87,390.67 366.80,399.00 C367.73,407.33 369.45,413.33 369.60,422.00 C369.75,430.67 368.02,446.17 367.70,451.00" fill="none" stroke="#444" stroke-width="0.7"/>
<line x1="100" y1="393.4" x2="655" y2="393.4" stroke="#444" stroke-width="0.6" stroke-dasharray="14,3,2,3"/>
<rect x="125.4" y="451" width="8.5" height="38.7" fill="#fff" stroke="#111" stroke-width="1.3" />
<line x1="125.4" y1="478" x2="133.9" y2="478" stroke="#111" stroke-width="1.2" />
<circle cx="275.2" cy="373.3" r="10" fill="#fff" stroke="#111" stroke-width="1.5"/>
<circle cx="275.2" cy="369.1" r="10" fill="#fff" stroke="#111" stroke-width="1.5"/>
<circle cx="275.2" cy="369.1" r="3.2" fill="none" stroke="#111" stroke-width="2.6"/>
<line x1="260.7" y1="369.1" x2="289.7" y2="369.1" stroke="#222" stroke-width="0.7" />
<line x1="275.2" y1="355.5" x2="275.2" y2="383.5" stroke="#222" stroke-width="0.7" />
<circle cx="331.6" cy="373.3" r="10" fill="#fff" stroke="#111" stroke-width="1.5"/>
<circle cx="331.6" cy="369.1" r="10" fill="#fff" stroke="#111" stroke-width="1.5"/>
<circle cx="331.6" cy="369.1" r="3.2" fill="none" stroke="#111" stroke-width="2.6"/>
<line x1="317.1" y1="369.1" x2="346.1" y2="369.1" stroke="#222" stroke-width="0.7" />
<line x1="331.6" y1="355.5" x2="331.6" y2="383.5" stroke="#222" stroke-width="0.7" />
<polyline points="402.4,369.8 402.4,335.9 509.8,335.9 509.8,450.6 461.2,450.6" fill="none" stroke="#111" stroke-width="1.6"/>
<line x1="497.7" y1="335.9" x2="497.7" y2="450.6" stroke="#111" stroke-width="1.3" />
<rect x="497.7" y="386.5" width="12.1" height="12.2" fill="#fff" stroke="#111" stroke-width="1.2" />
<line x1="461.2" y1="401.9" x2="461.2" y2="451" stroke="#111" stroke-width="1.4" />
<rect x="457.3" y="421.5" width="4.1" height="17.5" fill="#fff" stroke="#111" stroke-width="1.1" />
<path d="M423.1,335.8 Q423.6,330.4 428.7,330.4 L428.7,335.8 Z" fill="#111"/>
<path d="M476.6,335.8 Q476.1,330.4 471.6,330.4 L471.6,335.8 Z" fill="#111"/>
<path d="M428.7,338.9 L428.7,330.5 L434.9,330.5 L434.9,309.6 L465.7,309.6 L465.7,330.5 L471.6,330.5 L471.6,338.9 Z" fill="#fff" stroke="#111" stroke-width="1.6"/>
<path d="M423.1,450.6 Q423.6,456.0 428.7,456.0 L428.7,450.6 Z" fill="#111"/>
<path d="M476.6,450.6 Q476.1,456.0 471.6,456.0 L471.6,450.6 Z" fill="#111"/>
<path d="M428.7,447.5 L428.7,455.9 L434.9,455.9 L434.9,476.8 L465.7,476.8 L465.7,455.9 L471.6,455.9 L471.6,447.5 Z" fill="#fff" stroke="#111" stroke-width="1.6"/>
<line x1="450.6" y1="305" x2="450.6" y2="480" stroke="#444" stroke-width="0.6" stroke-dasharray="14,3,2,3"/>
<rect x="403.5" y="369.9" width="35" height="31.5" fill="#fff" stroke="#111" stroke-width="1.5" />
<circle cx="425" cy="383.9" r="7" fill="#fff" stroke="#111" stroke-width="1.3"/>
<line x1="412" y1="383.9" x2="440" y2="383.9" stroke="#444" stroke-width="0.6" />
<line x1="425" y1="374" x2="425" y2="398" stroke="#444" stroke-width="0.6" />
<path d="M403.5,373 L393.5,373 Q391.3,373 391.3,376 L391.3,395.7 Q391.3,398.7 393.5,398.7 L403.5,398.7 Z" fill="#fff" stroke="#111" stroke-width="1.5"/>
<line x1="392" y1="374.5" x2="392" y2="397" stroke="#111" stroke-width="2.4" />
<line x1="400.5" y1="373" x2="400.5" y2="398.7" stroke="#111" stroke-width="1.1" />
<rect x="509.8" y="362.9" width="28.9" height="60.9" fill="#fff" stroke="#111" stroke-width="1.5" />
<rect x="538.3" y="360.9" width="8.1" height="64.8" fill="#111" stroke="#111" stroke-width="0.5" rx="2"/>
<polygon points="549.3,356.5 617.6,356.5 617.6,429.6 549.3,429.6 546.4,426 546.4,360" fill="#fff" stroke="#111" stroke-width="1.6" />
<path d="M560,357 L575,357 L575,429 L565,429 Q562,410 560,400 Q557,393 558,380 Q561,368 560,357 Z" fill="url(#h)"/>
<rect x="599.6" y="356.5" width="18" height="73.1" fill="url(#h)" stroke="#111" stroke-width="1.5" />
<line x1="556.1" y1="356.5" x2="556.1" y2="429.6" stroke="#111" stroke-width="1.5" />
<line x1="575" y1="356.5" x2="575" y2="429.6" stroke="#111" stroke-width="1.5" />
<line x1="587.4" y1="350" x2="587.4" y2="436" stroke="#444" stroke-width="0.6" stroke-dasharray="14,3,2,3"/>
<line x1="95.4" y1="451" x2="95.4" y2="509.5" stroke="#333" stroke-width="0.7" />
<line x1="125.4" y1="490" x2="125.4" y2="509.5" stroke="#333" stroke-width="0.7" />
<line x1="133.9" y1="490" x2="133.9" y2="509.5" stroke="#333" stroke-width="0.7" />
<line x1="95.4" y1="504.4" x2="163" y2="504.4" stroke="#333" stroke-width="0.7" />
<polygon points="95.4,504.4 106.40,502.40 106.40,506.40" fill="#111"/>
<polygon points="125.4,504.4 114.40,506.40 114.40,502.40" fill="#111"/>
<polygon points="133.9,504.4 144.90,502.40 144.90,506.40" fill="#111"/>
<text transform="translate(101.6,498.85) rotate(0) scale(0.91,1)" font-size="16.17" fill="#000" stroke="#fff" stroke-width="0.3" font-style="italic">25</text>
<text transform="translate(147.8,498.85) rotate(0) scale(0.969,1)" font-size="16.17" fill="#000" stroke="#fff" stroke-width="0.3" font-style="italic">7</text>
<line x1="617" y1="356.5" x2="650" y2="356.5" stroke="#333" stroke-width="0.7" />
<line x1="617" y1="429.6" x2="650" y2="429.6" stroke="#333" stroke-width="0.7" />
<line x1="644.6" y1="356.5" x2="644.6" y2="429.6" stroke="#333" stroke-width="0.7" />
<polygon points="644.6,356.5 646.60,367.50 642.60,367.50" fill="#111"/>
<polygon points="644.6,429.6 642.60,418.60 646.60,418.60" fill="#111"/>
<text transform="translate(638.4,402.75) rotate(-90) scale(1.017,1)" font-size="15.62" fill="#000" stroke="#fff" stroke-width="0.3" font-style="italic">60</text>
<line x1="575" y1="429.6" x2="575" y2="454.7" stroke="#333" stroke-width="0.7" />
<line x1="599.6" y1="429.6" x2="599.6" y2="454.7" stroke="#333" stroke-width="0.7" />
<line x1="529" y1="450.3" x2="616" y2="450.3" stroke="#333" stroke-width="0.7" />
<polygon points="575,450.3 564.00,452.30 564.00,448.30" fill="#111"/>
<polygon points="599.6,450.3 610.60,448.30 610.60,452.30" fill="#111"/>
<text transform="translate(534.9,444.25) rotate(0) scale(0.86,1)" font-size="17.56" fill="#000" stroke="#fff" stroke-width="0.3" font-style="italic">ø20</text>
<line x1="402" y1="393.4" x2="625" y2="393.4" stroke="#444" stroke-width="0.6" stroke-dasharray="14,3,2,3"/>
<text transform="translate(722.0,312.5) rotate(0) scale(0.779,1)" font-size="11.4" fill="#333" stroke="#fff" stroke-width="0" font-style="italic">Технические характеристики</text>
<text transform="translate(686.4,324.4) rotate(0) scale(0.741,1)" font-size="11.4" fill="#333" stroke="#fff" stroke-width="0" font-style="italic">Давление, МПа</text>
<text transform="translate(696.6,336.9) rotate(0) scale(0.772,1)" font-size="11.4" fill="#333" stroke="#fff" stroke-width="0" font-style="italic">– максимальное рабочее</text>
<text transform="translate(866.9,336.9) rotate(0) scale(0.819,1)" font-size="11.8" fill="#333" stroke="#fff" stroke-width="0" font-style="italic">28</text>
</svg>
</body></html>
